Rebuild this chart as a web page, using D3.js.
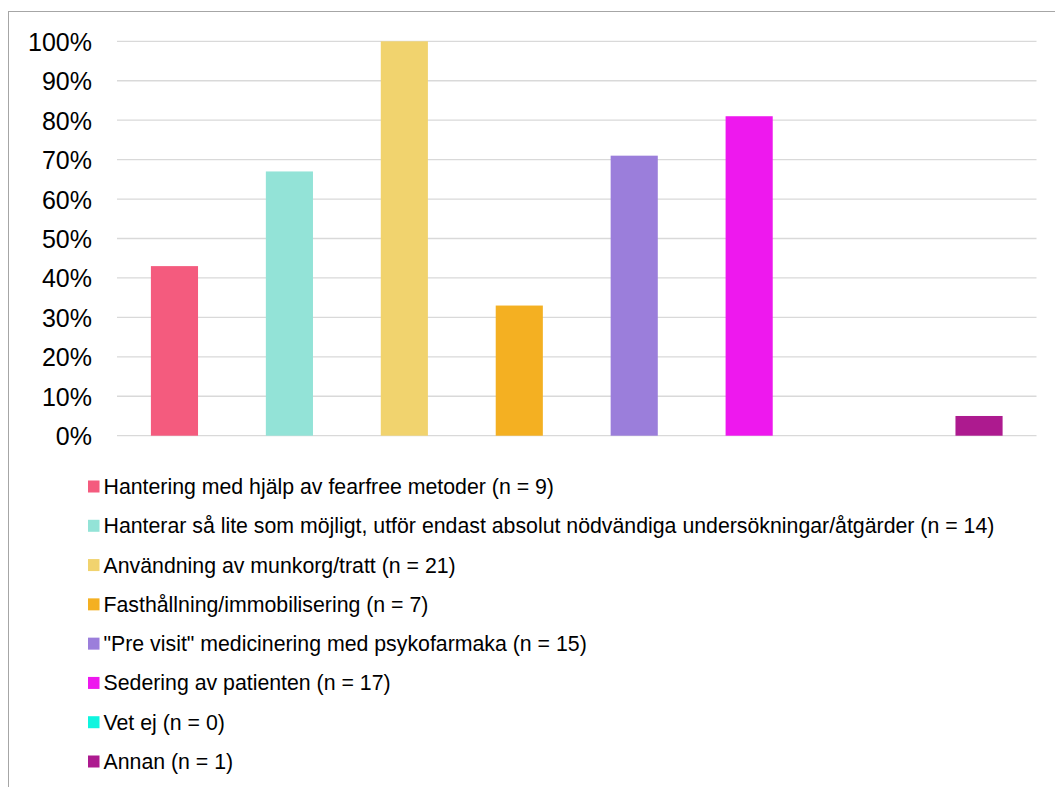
<!DOCTYPE html>
<html>
<head>
<meta charset="utf-8">
<script src="https://cdn.jsdelivr.net/npm/d3@7"></script>
<style>
  html, body { margin: 0; padding: 0; background: #fff; }
  svg { display: block; font-family: Arial, "Liberation Sans", sans-serif; }
</style>
</head>
<body>
<svg id="chart" width="1055" height="787"></svg>
<script>
// Share of respondents using each handling method (percent)
const categories = [
  "Hantering med hjälp av fearfree metoder (n = 9)",
  "Hanterar så lite som möjligt, utför endast absolut nödvändiga undersökningar/åtgärder (n = 14)",
  "Användning av munkorg/tratt (n = 21)",
  "Fasthållning/immobilisering (n = 7)",
  "\"Pre visit\" medicinering med psykofarmaka (n = 15)",
  "Sedering av patienten (n = 17)",
  "Vet ej (n = 0)",
  "Annan (n = 1)"
];
const values = [43, 67, 100, 33, 71, 81, 0, 5];
const colors = ["#F45B7E", "#93E3D7", "#F1D36E", "#F4B022", "#9B7EDB", "#EE18EE", "#0FF5DF", "#AD1A8F"];
const yTicks = [0, 10, 20, 30, 40, 50, 60, 70, 80, 90, 100];

const svg = d3.select("#chart");

// outer frame
svg.append("rect")
  .attr("x", 8.5).attr("y", 11.5)
  .attr("width", 1100).attr("height", 900)
  .attr("fill", "none").attr("stroke", "#A6A6A6").attr("stroke-width", 1);

const plot = { left: 117, right: 1036.5, top: 41.3, bottom: 435.7 };

const x = d3.scaleBand()
  .domain(d3.range(categories.length))
  .range([plot.left, plot.right])
  .paddingInner(0.59)
  .paddingOuter(0.295);

const y = d3.scaleLinear().domain([0, 100]).range([plot.bottom, plot.top]);

// gridlines
svg.append("g")
  .selectAll("line")
  .data(yTicks)
  .join("line")
  .attr("x1", plot.left).attr("x2", plot.right)
  .attr("y1", d => y(d)).attr("y2", d => y(d))
  .attr("stroke", "#D9D9D9").attr("stroke-width", 1.3);

// y axis labels
const yAxis = d3.axisLeft(y).tickValues(yTicks).tickFormat(d => d + "%").tickSize(0).tickPadding(0);
const gy = svg.append("g").attr("transform", `translate(${plot.left - 25},0)`).call(yAxis);
gy.select(".domain").remove();
gy.selectAll("text")
  .attr("font-family", "Arial, 'Liberation Sans', sans-serif")
  .attr("font-size", 25)
  .attr("fill", "#000")
  .attr("dy", "0.36em");

// bars
svg.append("g")
  .selectAll("rect")
  .data(values)
  .join("rect")
  .attr("x", (d, i) => x(i))
  .attr("width", x.bandwidth())
  .attr("y", d => y(d))
  .attr("height", d => y(0) - y(d))
  .attr("fill", (d, i) => colors[i]);

// legend
const legend = svg.append("g").attr("transform", "translate(88,0)");
const rowY = d3.scaleLinear().domain([0, categories.length - 1]).range([486.5, 761.5]);
const rows = legend.selectAll("g")
  .data(categories)
  .join("g")
  .attr("transform", (d, i) => `translate(0,${rowY(i)})`);
rows.append("rect")
  .attr("x", 0).attr("y", -6)
  .attr("width", 11.5).attr("height", 12)
  .attr("fill", (d, i) => colors[i]);
rows.append("text")
  .attr("x", 15.5).attr("y", 0)
  .attr("dy", "0.35em")
  .attr("font-size", 21.3)
  .attr("fill", "#000")
  .text(d => d);
</script>
</body>
</html>
